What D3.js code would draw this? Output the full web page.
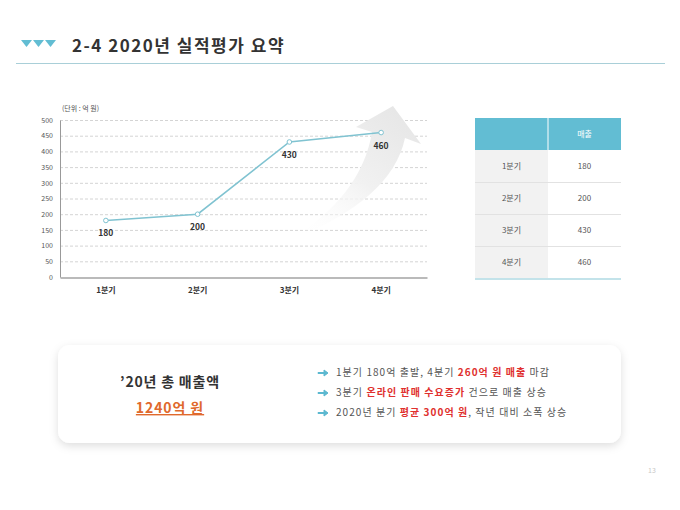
<!DOCTYPE html>
<html>
<head>
<meta charset="utf-8">
<script src="https://cdn.jsdelivr.net/npm/d3@7"></script>
<style>
  body { margin: 0; background: #fff; }
  svg { display: block; font-family: "Noto Sans CJK KR", "Noto Sans", sans-serif; }
</style>
</head>
<body>
<div class="slide"></div>
<script>
const quarters = ['1분기', '2분기', '3분기', '4분기'];
const sales    = [180, 200, 430, 460];
const yTicks   = [0, 50, 100, 150, 200, 250, 300, 350, 400, 450, 500];
const tableHeader = ['', '매출'];
const bullets = [
  [['1분기 180억 출발, 4분기 ', false], ['260억 원 매출', true], [' 마감', false]],
  [['3분기 ', false], ['온라인 판매 수요증가', true], [' 건으로 매출 상승', false]],
  [['2020년 분기 ', false], ['평균 300억 원', true], [', 작년 대비 소폭 상승', false]]
];

const teal = '#62bdd3';

const svg = d3.select('.slide').append('svg')
  .attr('width', 680).attr('height', 510);

const defs = svg.append('defs');
const grad = defs.append('linearGradient').attr('id', 'arrowGrad')
  .attr('x1', '85%').attr('y1', '0%').attr('x2', '10%').attr('y2', '100%');
grad.append('stop').attr('offset', '0%').attr('stop-color', '#e6e6e6');
grad.append('stop').attr('offset', '50%').attr('stop-color', '#f1f1f1');
grad.append('stop').attr('offset', '100%').attr('stop-color', '#ffffff').attr('stop-opacity', 0);

const shadow = defs.append('filter').attr('id', 'shadow')
  .attr('x', '-10%').attr('y', '-20%').attr('width', '120%').attr('height', '150%');
shadow.append('feDropShadow').attr('dx', 0).attr('dy', 3).attr('stdDeviation', 4)
  .attr('flood-color', '#000').attr('flood-opacity', 0.13);

// header
const tri = svg.append('g').attr('fill', teal);
[0, 1, 2].forEach(i => {
  const x0 = 21 + i * 12;
  tri.append('path').attr('d', `M${x0},40 L${x0 + 11},40 L${x0 + 5.5},47 Z`);
});
svg.append('text').attr('x', 72).attr('y', 52)
  .attr('font-size', 17).attr('font-weight', 'bold').attr('fill', '#333')
  .attr('letter-spacing', 1.5)
  .text('2-4 2020년 실적평가 요약');
svg.append('line').attr('x1', 16).attr('x2', 665).attr('y1', 63.5).attr('y2', 63.5)
  .attr('stroke', '#a9cfd8').attr('stroke-width', 1);

// chart
const x = d3.scaleBand().domain(quarters).range([60, 427]);
const y = d3.scaleLinear().domain([0, 500]).range([277, 120]);

svg.append('text').attr('x', 62).attr('y', 111)
  .attr('font-size', 7).attr('fill', '#555').text('(단위 : 억 원)');

svg.append('g').selectAll('line').data(yTicks.filter(d => d > 0)).join('line')
  .attr('x1', 60).attr('x2', 427)
  .attr('y1', d => y(d) + 0.5).attr('y2', d => y(d) + 0.5)
  .attr('stroke', '#d4d4d4').attr('stroke-dasharray', '3,2');

// decorative rising arrow
svg.append('path')
  .attr('d', 'M356,127 L393,106 L421,144 L405,138 Q392,200 290,240 Q362,195 372,132 Z')
  .attr('fill', 'url(#arrowGrad)');

const yAxis = svg.append('g').attr('transform', 'translate(60,0)')
  .call(d3.axisLeft(y).tickValues(yTicks).tickSize(0).tickPadding(7));
yAxis.select('.domain').attr('stroke', '#999');
yAxis.selectAll('text').attr('font-size', 7).attr('fill', '#555')
  .attr('font-family', '"Noto Sans CJK KR", sans-serif');

const xAxis = svg.append('g').attr('transform', 'translate(0,277.5)')
  .call(d3.axisBottom(x).tickSize(0).tickPadding(10));
xAxis.select('.domain').attr('stroke', '#777').attr('stroke-width', 1.2);
xAxis.selectAll('text').attr('font-size', 8).attr('font-weight', 'bold').attr('fill', '#333')
  .attr('font-family', '"Noto Sans CJK KR", sans-serif');

const cx = d => x(d) + x.bandwidth() / 2;
const line = d3.line().x((d, i) => cx(quarters[i])).y(d => y(d));
svg.append('path').datum(sales).attr('d', line)
  .attr('fill', 'none').attr('stroke', '#80c3d1').attr('stroke-width', 1.6);
svg.append('g').selectAll('circle').data(sales).join('circle')
  .attr('cx', (d, i) => cx(quarters[i])).attr('cy', d => y(d)).attr('r', 2.3)
  .attr('fill', '#fff').attr('stroke', '#80c3d1').attr('stroke-width', 1);
svg.append('g').selectAll('text').data(sales).join('text')
  .attr('x', (d, i) => cx(quarters[i])).attr('y', d => y(d) + 16)
  .attr('text-anchor', 'middle').attr('font-size', 8.5).attr('font-weight', 'bold')
  .attr('fill', '#333').text(d => d);

// table
const tx = d3.scaleBand().domain([0, 1]).range([475, 621]);
const ty = d3.scaleBand().domain(quarters).range([150, 278]);
const tbl = svg.append('g');
tbl.append('rect').attr('x', 475).attr('y', 118).attr('width', 146).attr('height', 32).attr('fill', teal);
tbl.append('line').attr('x1', tx(1)).attr('x2', tx(1)).attr('y1', 118).attr('y2', 150)
  .attr('stroke', '#fff').attr('stroke-width', 1);
tbl.selectAll('.hd').data(tableHeader).join('text').attr('class', 'hd')
  .attr('x', (d, i) => tx(i) + tx.bandwidth() / 2).attr('y', 137)
  .attr('text-anchor', 'middle').attr('font-size', 8).attr('fill', '#fff').text(d => d);
tbl.selectAll('.lc').data(quarters).join('rect').attr('class', 'lc')
  .attr('x', tx(0)).attr('y', d => ty(d)).attr('width', tx.bandwidth()).attr('height', ty.bandwidth())
  .attr('fill', '#f2f2f2');
tbl.selectAll('.sep').data(quarters.slice(1)).join('line').attr('class', 'sep')
  .attr('x1', 475).attr('x2', 621).attr('y1', d => ty(d) + 0.5).attr('y2', d => ty(d) + 0.5)
  .attr('stroke', '#e2e2e2');
tbl.selectAll('.q').data(quarters).join('text').attr('class', 'q')
  .attr('x', tx(0) + tx.bandwidth() / 2).attr('y', d => ty(d) + ty.bandwidth() / 2 + 3)
  .attr('text-anchor', 'middle').attr('font-size', 8).attr('fill', '#555').text(d => d);
tbl.selectAll('.v').data(sales).join('text').attr('class', 'v')
  .attr('x', tx(1) + tx.bandwidth() / 2).attr('y', (d, i) => ty(quarters[i]) + ty.bandwidth() / 2 + 3)
  .attr('text-anchor', 'middle').attr('font-size', 8).attr('fill', '#555').text(d => d);
tbl.append('line').attr('x1', 475).attr('x2', 621).attr('y1', 279).attr('y2', 279)
  .attr('stroke', '#c3e3ea').attr('stroke-width', 2);

// summary box
svg.append('rect').attr('x', 58).attr('y', 345).attr('width', 563).attr('height', 98)
  .attr('rx', 12).attr('fill', '#fff').attr('filter', 'url(#shadow)');
svg.append('text').attr('x', 170).attr('y', 387).attr('text-anchor', 'middle')
  .attr('font-size', 14).attr('font-weight', 'bold').attr('fill', '#333')
  .attr('letter-spacing', 0.8)
  .text('’20년 총 매출액');
svg.append('text').attr('x', 170).attr('y', 413).attr('text-anchor', 'middle')
  .attr('font-size', 14).attr('font-weight', 'bold').attr('fill', '#e0692c')
  .attr('letter-spacing', 0.9).attr('text-decoration', 'underline')
  .text('1240억 원');

const bl = svg.append('g');
bullets.forEach((segs, i) => {
  const by = 376 + i * 20;
  bl.append('path')
    .attr('d', `M318,${by - 3.5} L324,${by - 3.5} L324,${by - 6} L328,${by - 3} L324,${by} L324,${by - 2.5} L318,${by - 2.5} Z`)
    .attr('fill', '#5cb8d0').attr('stroke', '#5cb8d0').attr('stroke-width', 1).attr('stroke-linejoin', 'round');
  const t = bl.append('text').attr('x', 336).attr('y', by)
    .attr('font-size', 10).attr('letter-spacing', 1.05);
  segs.forEach(([s, em]) => {
    t.append('tspan').text(s)
      .attr('fill', em ? '#e0302e' : '#555')
      .attr('font-weight', em ? 'bold' : 'normal');
  });
});

svg.append('text').attr('x', 652).attr('y', 473).attr('text-anchor', 'middle')
  .attr('font-size', 7).attr('fill', '#c8c8c8').text('13');
</script>
</body>
</html>
